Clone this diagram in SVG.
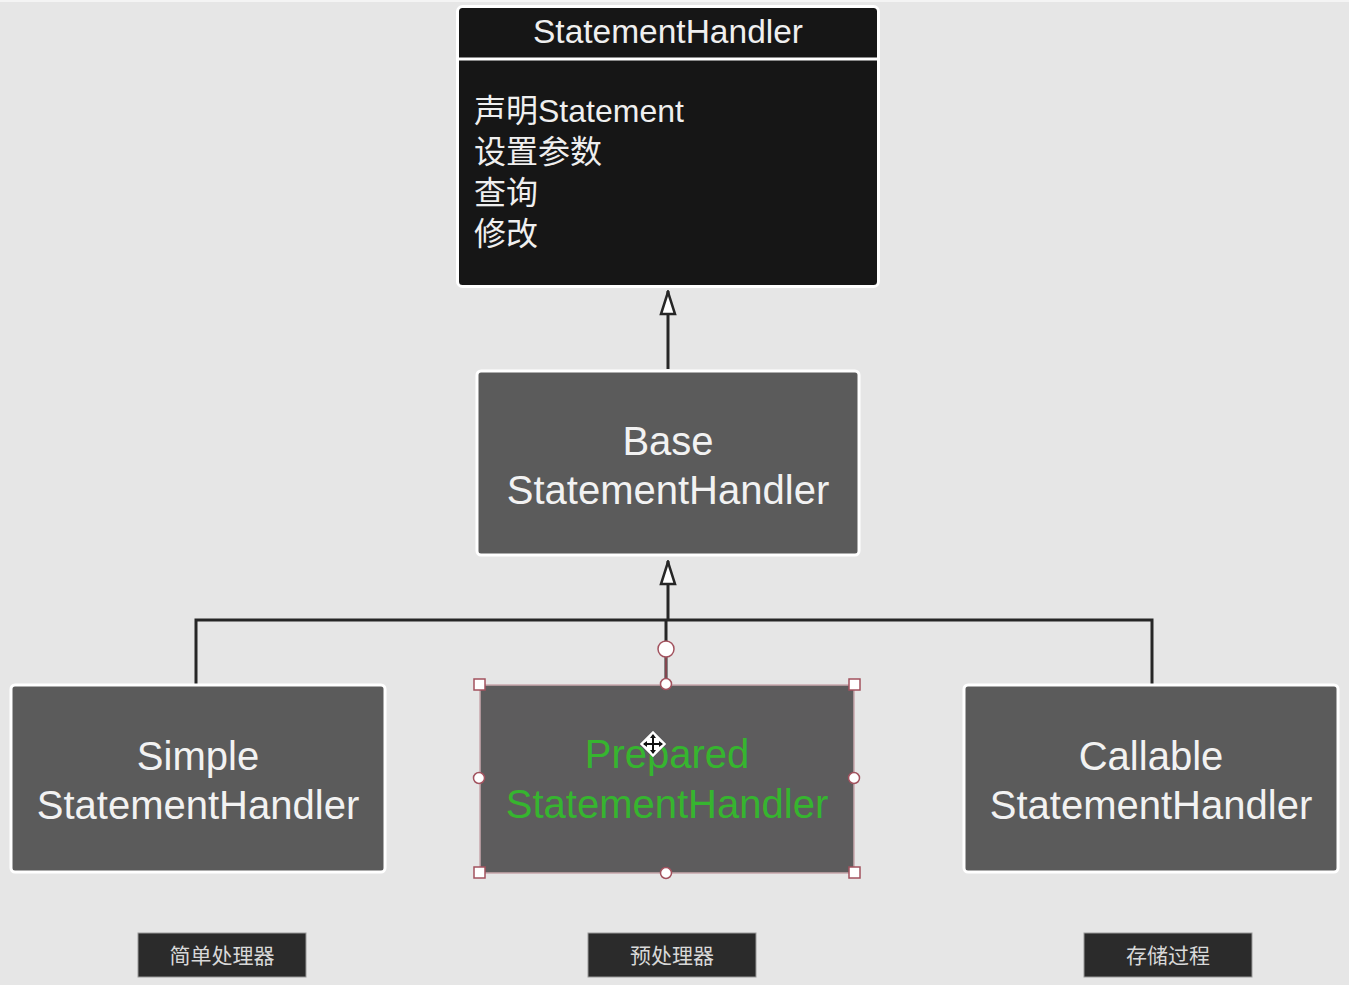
<svg xmlns="http://www.w3.org/2000/svg" width="1349" height="985" viewBox="0 0 1349 985">
<defs>
<style>
.node{fill:#5b5b5b;stroke:#ffffff;stroke-width:3}
.lbl{font-family:"Liberation Sans","Noto Sans CJK SC",sans-serif;font-size:40px;fill:#f2f2f2;text-anchor:middle}
.sel{fill:#36b52f}
.body{font-family:"Liberation Sans","Noto Sans CJK SC",sans-serif;font-size:32px;fill:#efefef}
.tag{fill:#2b2b2b;stroke:#9a9a9a;stroke-width:1}
.tagt{font-family:"Noto Sans CJK SC",sans-serif;font-size:21px;fill:#d8d8d8;text-anchor:middle}
.conn{fill:none;stroke:#262626;stroke-width:3}
.hs{fill:#ffffff;stroke:#a2525e;stroke-width:1.5}
</style>
<marker id="tri" viewBox="0 0 26 18" refX="25" refY="9" markerWidth="26" markerHeight="18" markerUnits="userSpaceOnUse" orient="auto">
<path d="M24 9 L2 2 L2 16 Z" fill="#ffffff" stroke="#262626" stroke-width="2.5" stroke-linejoin="miter"/>
</marker>
</defs>
<rect width="1349" height="985" fill="#e6e6e6"/>
<rect x="0" y="0" width="1349" height="2" fill="#f4f4f4"/>

<g id="connectors">
<path class="conn" d="M668 369 L668 291" marker-end="url(#tri)"/>
<path class="conn" d="M668 620 L668 561" marker-end="url(#tri)"/>
<path class="conn" d="M196 684 L196 620 L1152 620 L1152 684"/>
<path class="conn" d="M666 620 L666 684"/>
</g>

<g id="StatementHandler">
<rect x="457.500" y="6.500" width="421" height="280" rx="5" fill="#161616" stroke="#ffffff" stroke-width="3"/>
<line x1="458" y1="59" x2="878" y2="59" stroke="#ffffff" stroke-width="3"/>
<text x="668" y="43" font-family="Liberation Sans, sans-serif" font-size="33.500" fill="#efefef" text-anchor="middle">StatementHandler</text>
<text class="body" x="474" y="122">声明Statement</text>
<text class="body" x="474" y="163">设置参数</text>
<text class="body" x="474" y="204">查询</text>
<text class="body" x="474" y="245">修改</text>
</g>

<g id="BaseStatementHandler">
<rect class="node" x="477" y="371" width="382" height="184" rx="4"/>
<text class="lbl" x="668" y="455">Base</text>
<text class="lbl" x="668" y="504">StatementHandler</text>
</g>

<g id="SimpleStatementHandler">
<rect class="node" x="11" y="685" width="374" height="187" rx="4"/>
<text class="lbl" x="198" y="770">Simple</text>
<text class="lbl" x="198" y="819">StatementHandler</text>
</g>

<g id="PreparedStatementHandler">
<rect x="480" y="685" width="374" height="188" fill="#5d5c5d" stroke="#c9a8ad" stroke-width="1.5"/>
<text class="lbl sel" x="667" y="768">Prepared</text>
<text class="lbl sel" x="667" y="818">StatementHandler</text>
<line x1="666" y1="657" x2="666" y2="684" stroke="#a2525e" stroke-width="1.5"/>
<circle class="hs" cx="666" cy="649" r="8"/>
<rect class="hs" x="474" y="679" width="11" height="11"/>
<rect class="hs" x="849" y="679" width="11" height="11"/>
<rect class="hs" x="474" y="867" width="11" height="11"/>
<rect class="hs" x="849" y="867" width="11" height="11"/>
<circle class="hs" cx="666" cy="684" r="5.500"/>
<circle class="hs" cx="666" cy="873" r="5.500"/>
<circle class="hs" cx="479" cy="778" r="5.500"/>
<circle class="hs" cx="854" cy="778" r="5.500"/>
<g transform="translate(653 744)">
<path d="M0 -13 L13 0 L0 13 L-13 0 Z" fill="#ffffff" stroke="#cccccc" stroke-width="1"/>
<path d="M0 -9 L0 9 M-9 0 L9 0" stroke="#111111" stroke-width="2"/>
<path d="M0 -10 L-3 -6 L3 -6 Z M0 10 L-3 6 L3 6 Z M-10 0 L-6 -3 L-6 3 Z M10 0 L6 -3 L6 3 Z" fill="#111111"/>
</g>
</g>

<g id="CallableStatementHandler">
<rect class="node" x="964" y="685" width="374" height="187" rx="4"/>
<text class="lbl" x="1151" y="770">Callable</text>
<text class="lbl" x="1151" y="819">StatementHandler</text>
</g>

<g id="tag-simple">
<rect class="tag" x="138" y="933" width="168" height="44"/>
<text class="tagt" x="222" y="963">简单处理器</text>
</g>
<g id="tag-prepared">
<rect class="tag" x="588" y="933" width="168" height="44"/>
<text class="tagt" x="672" y="963">预处理器</text>
</g>
<g id="tag-callable">
<rect class="tag" x="1084" y="933" width="168" height="44"/>
<text class="tagt" x="1168" y="963">存储过程</text>
</g>
</svg>
